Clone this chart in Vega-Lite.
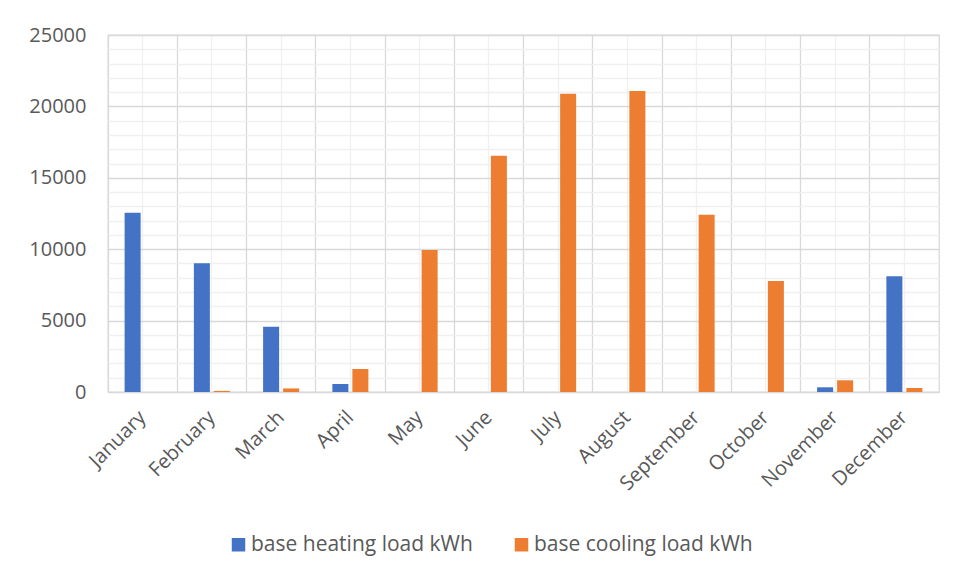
{
  "$schema": "https://vega.github.io/schema/vega-lite/v6.json",
  "width": 831,
  "height": 357,
  "autosize": "none",
  "padding": {"left": 108, "top": 35, "right": 19, "bottom": 187},
  "background": "white",
  "config": {
    "font": "Open Sans",
    "view": {"stroke": "#d9d9d9", "strokeWidth": 1.3},
    "axis": {"labelColor": "#595959", "labelFont": "Open Sans"}
  },
  "data": {
    "values": [
      {"month": "January", "series": "base heating load kWh", "value": 12550},
      {"month": "January", "series": "base cooling load kWh", "value": 0},
      {"month": "February", "series": "base heating load kWh", "value": 9020},
      {"month": "February", "series": "base cooling load kWh", "value": 80},
      {"month": "March", "series": "base heating load kWh", "value": 4570},
      {"month": "March", "series": "base cooling load kWh", "value": 250},
      {"month": "April", "series": "base heating load kWh", "value": 560},
      {"month": "April", "series": "base cooling load kWh", "value": 1610},
      {"month": "May", "series": "base heating load kWh", "value": 0},
      {"month": "May", "series": "base cooling load kWh", "value": 9950},
      {"month": "June", "series": "base heating load kWh", "value": 0},
      {"month": "June", "series": "base cooling load kWh", "value": 16550},
      {"month": "July", "series": "base heating load kWh", "value": 0},
      {"month": "July", "series": "base cooling load kWh", "value": 20880},
      {"month": "August", "series": "base heating load kWh", "value": 0},
      {"month": "August", "series": "base cooling load kWh", "value": 21080},
      {"month": "September", "series": "base heating load kWh", "value": 0},
      {"month": "September", "series": "base cooling load kWh", "value": 12410},
      {"month": "October", "series": "base heating load kWh", "value": 0},
      {"month": "October", "series": "base cooling load kWh", "value": 7780},
      {"month": "November", "series": "base heating load kWh", "value": 330},
      {"month": "November", "series": "base cooling load kWh", "value": 820},
      {"month": "December", "series": "base heating load kWh", "value": 8100},
      {"month": "December", "series": "base cooling load kWh", "value": 280}
    ]
  },
  "layer": [
    {
      "mark": {"type": "bar"},
      "encoding": {
        "x": {
          "field": "month", "type": "nominal",
          "sort": ["January","February","March","April","May","June","July","August","September","October","November","December"],
          "scale": {"paddingInner": 0, "paddingOuter": 0},
          "axis": {
            "title": null, "labelAngle": -45, "labelAlign": "right", "labelBaseline": "middle",
            "labelFontSize": 20, "labelPadding": 22, "ticks": false, "domain": false,
            "grid": true, "gridColor": "#f0f0f0", "gridWidth": 1.3
          }
        },
        "xOffset": {
          "field": "series", "type": "nominal",
          "sort": ["base heating load kWh", "base cooling load kWh"],
          "scale": {"paddingInner": 0.2, "paddingOuter": 0.83}
        },
        "y": {
          "field": "value", "type": "quantitative",
          "scale": {"domain": [0, 25000], "nice": false},
          "axis": {
            "title": null, "values": [0, 5000, 10000, 15000, 20000, 25000], "format": "d",
            "labelFontSize": 20, "labelPadding": 22, "ticks": false, "domain": false,
            "grid": true, "gridColor": "#d9d9d9", "gridWidth": 1.3
          }
        },
        "color": {
          "field": "series", "type": "nominal",
          "scale": {"domain": ["base heating load kWh", "base cooling load kWh"], "range": ["#4472C4", "#ED7D31"]},
          "legend": {
            "title": null, "orient": "none", "direction": "horizontal",
            "legendX": 120, "legendY": 499,
            "symbolType": "square", "symbolSize": 182, "symbolStrokeWidth": 0,
            "labelFontSize": 21, "labelColor": "#595959", "labelFont": "Open Sans",
            "columnPadding": 38, "labelOffset": 2, "labelLimit": 400
          }
        }
      }
    },
    {
      "mark": {"type": "bar", "opacity": 0},
      "encoding": {
        "x": {
          "field": "month", "type": "nominal",
          "sort": ["January","February","March","April","May","June","July","August","September","October","November","December"],
          "axis": {
            "orient": "top", "title": null, "labels": false, "ticks": false, "domain": false,
            "bandPosition": 0, "grid": true, "gridColor": "#d9d9d9", "gridWidth": 1.3
          }
        },
        "y": {
          "field": "value", "type": "quantitative",
          "axis": {
            "orient": "right", "title": null, "labels": false, "ticks": false, "domain": false,
            "values": [1000,2000,3000,4000,6000,7000,8000,9000,11000,12000,13000,14000,16000,17000,18000,19000,21000,22000,23000,24000],
            "grid": true, "gridColor": "#f0f0f0", "gridWidth": 1.3
          }
        }
      }
    }
  ],
  "resolve": {"axis": {"x": "independent", "y": "independent"}}
}
